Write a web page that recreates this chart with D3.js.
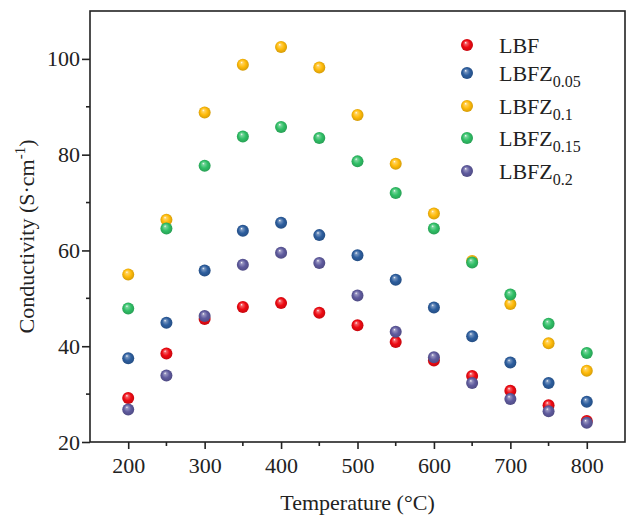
<!DOCTYPE html>
<html>
<head>
<meta charset="utf-8">
<script src="https://cdn.jsdelivr.net/npm/d3@7"></script>
<style>
  html, body { margin: 0; padding: 0; background: #fff; }
  svg { display: block; }
  text { font-family: "Liberation Serif", "Times New Roman", serif; fill: #222; }
</style>
</head>
<body>
<svg id="chart" width="626" height="515"></svg>
<script>
// ---- data ----
const temperatures = [200, 250, 300, 350, 400, 450, 500, 550, 600, 650, 700, 750, 800];
const seriesNames = ["LBF", "LBFZ", "LBFZ", "LBFZ", "LBFZ"];
const seriesSubs = ["", "0.05", "0.1", "0.15", "0.2"];
const LBF      = [29.2, 38.5, 45.7, 48.2, 49.0, 47.0, 44.4, 40.9, 37.0, 33.8, 30.7, 27.7, 24.4];
const LBFZ005  = [37.5, 44.9, 55.8, 64.1, 65.8, 63.2, 59.0, 53.9, 48.1, 42.1, 36.6, 32.3, 28.4];
const LBFZ01   = [55.0, 66.4, 88.8, 98.8, 102.5, 98.2, 88.3, 78.1, 67.7, 57.8, 48.8, 40.6, 34.9];
const LBFZ015  = [47.9, 64.6, 77.7, 83.8, 85.8, 83.5, 78.6, 72.0, 64.6, 57.5, 50.8, 44.7, 38.6];
const LBFZ02   = [26.8, 33.9, 46.3, 57.0, 59.5, 57.4, 50.6, 43.0, 37.7, 32.3, 29.0, 26.4, 24.0];
const seriesValues = [LBF, LBFZ005, LBFZ01, LBFZ015, LBFZ02];
const seriesColors = ["#ee0a12", "#2d5e9e", "#ffbb0a", "#30bf66", "#5f5b9e"];
const xTicks = [200, 300, 400, 500, 600, 700, 800];
const yTicks = [20, 40, 60, 80, 100];

// ---- layout ----
const svg = d3.select("#chart");
const L = 90, R = 625, T = 11, B = 442;
const x = d3.scaleLinear().domain([150, 850]).range([L, R]);
const y = d3.scaleLinear().domain([20, 110]).range([B, T]);

// gradients for glossy spheres
const defs = svg.append("defs");
seriesColors.forEach((c, i) => {
  const g = defs.append("radialGradient")
    .attr("id", "grad" + i)
    .attr("cx", "50%").attr("cy", "50%").attr("r", "55%")
    .attr("fx", "38%").attr("fy", "30%");
  g.append("stop").attr("offset", "0%").attr("stop-color", "#ffffff");
  g.append("stop").attr("offset", "18%").attr("stop-color", d3.interpolateRgb(c, "#fff")(0.35));
  g.append("stop").attr("offset", "55%").attr("stop-color", c);
  g.append("stop").attr("offset", "100%").attr("stop-color", d3.color(c).darker(0.6));
});

// frame
svg.append("rect")
  .attr("x", L).attr("y", T).attr("width", R - L).attr("height", B - T)
  .attr("fill", "none").attr("stroke", "#222").attr("stroke-width", 1.6);

// x axis
const xAxis = d3.axisBottom(x).tickValues(xTicks).tickSize(7).tickPadding(8).tickFormat(d3.format("d"));
const gx = svg.append("g").attr("transform", `translate(0,${B})`).call(xAxis);
gx.select(".domain").remove();
gx.selectAll(".tick line").attr("stroke", "#222").attr("stroke-width", 1.6);
gx.selectAll(".tick text").attr("font-size", 22).attr("dy", "0.71em").style("font-family", '"Liberation Serif", "Times New Roman", serif').attr("fill", "#222");
// x minor ticks
const xMinor = d3.range(250, 850, 100);
svg.append("g").selectAll("line").data(xMinor).join("line")
  .attr("x1", d => x(d)).attr("x2", d => x(d))
  .attr("y1", B).attr("y2", B + 4)
  .attr("stroke", "#222").attr("stroke-width", 1.6);

// y axis
const yAxis = d3.axisLeft(y).tickValues(yTicks).tickSize(8).tickPadding(2).tickFormat(d3.format("d"));
const gy = svg.append("g").attr("transform", `translate(${L},0)`).call(yAxis);
gy.select(".domain").remove();
gy.selectAll(".tick line").attr("stroke", "#222").attr("stroke-width", 1.6);
gy.selectAll(".tick text").attr("font-size", 22).style("font-family", '"Liberation Serif", "Times New Roman", serif').attr("fill", "#222");
const yMinor = [30, 50, 70, 90];
svg.append("g").selectAll("line").data(yMinor).join("line")
  .attr("x1", L - 4).attr("x2", L)
  .attr("y1", d => y(d)).attr("y2", d => y(d))
  .attr("stroke", "#222").attr("stroke-width", 1.6);

// axis titles
svg.append("text")
  .attr("x", (L + R) / 2).attr("y", 510)
  .attr("text-anchor", "middle").attr("font-size", 22)
  .text("Temperature (°C)");

const yt = svg.append("text")
  .attr("transform", `translate(34,${(T + B) / 2 + 10}) rotate(-90)`)
  .attr("text-anchor", "middle").attr("font-size", 22);
yt.append("tspan").text("Conductivity (S·cm");
yt.append("tspan").attr("font-size", 15).attr("dy", -9).text("-1");
yt.append("tspan").attr("dy", 9).text(")");

// points
seriesValues.forEach((vals, i) => {
  svg.append("g").selectAll("circle").data(vals).join("circle")
    .attr("cx", (d, j) => x(temperatures[j]))
    .attr("cy", d => y(d))
    .attr("r", 6)
    .attr("fill", `url(#grad${i})`);
});

// legend
const legendY = [45, 73, 106, 138, 171];
const lg = svg.append("g");
seriesNames.forEach((name, i) => {
  lg.append("circle").attr("cx", 467).attr("cy", legendY[i]).attr("r", 6)
    .attr("fill", `url(#grad${i})`);
  const t = lg.append("text").attr("x", 499).attr("y", legendY[i] + 8).attr("font-size", 22);
  t.append("tspan").text(name);
  if (seriesSubs[i]) t.append("tspan").attr("font-size", 16).attr("dy", 6).text(seriesSubs[i]);
});
</script>
</body>
</html>
